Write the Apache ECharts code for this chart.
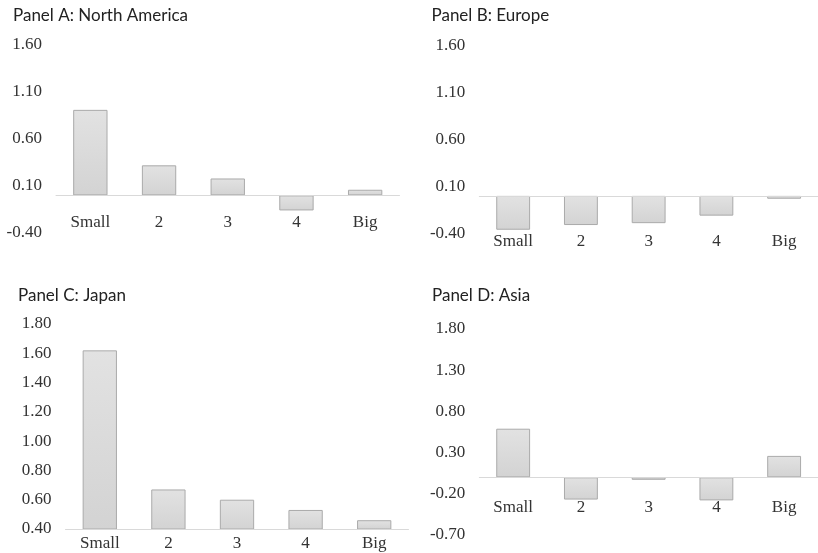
<!DOCTYPE html>
<html>
<head>
<meta charset="utf-8">
<title>Size quintile returns by region</title>
<script src="https://cdn.jsdelivr.net/npm/echarts@6/dist/echarts.min.js"></script>
<style>
  html, body { margin: 0; padding: 0; background: #ffffff; }
  #chart { width: 818px; height: 553px; }
</style>
</head>
<body>
<div id="chart"></div>
<script>
// Size quintiles shared by every panel
const categories = ['Small', '2', '3', '4', 'Big'];

// Panel titles
const panelTitles = ['Panel A: North America', 'Panel B: Europe', 'Panel C: Japan', 'Panel D: Asia'];

// Values per panel
const northAmerica = [0.91, 0.32, 0.18, -0.16, 0.06];
const europe = [-0.36, -0.31, -0.29, -0.21, -0.03];
const japan = [1.62, 0.67, 0.60, 0.53, 0.46];
const asia = [0.59, -0.27, -0.03, -0.28, 0.26];

// Value axis ranges: [min, max, interval]
const rangeA = [-0.4, 1.6, 0.5];
const rangeB = [-0.4, 1.6, 0.5];
const rangeC = [0.4, 1.8, 0.2];
const rangeD = [-0.7, 1.8, 0.5];

const panelValues = [northAmerica, europe, japan, asia];
const panelRanges = [rangeA, rangeB, rangeC, rangeD];

// Layout of the four plot areas
const grids = [
  { left: 56, top: 45, width: 343.5, height: 188 },
  { left: 479.3, top: 45.5, width: 343.5, height: 188 },
  { left: 65.5, top: 324, width: 343, height: 205 },
  { left: 479.3, top: 329, width: 343.5, height: 206 }
];
// Category labels are offset from the bottom edge of each plot area
const categoryLabelMargins = [-19, -0.5, 5.8, -36];
const titlePositions = [
  { left: 13, top: 7 },
  { left: 431.5, top: 7 },
  { left: 18, top: 287.5 },
  { left: 432, top: 287.5 }
];

const serifFont = '"Liberation Serif", "Times New Roman", serif';
const sansFont = 'Lato, "Open Sans", sans-serif';

const barFill = new echarts.graphic.LinearGradient(0, 0, 0, 1, [
  { offset: 0, color: '#e2e2e2' },
  { offset: 1, color: '#d3d3d3' }
]);

const option = {
  animation: false,
  backgroundColor: '#ffffff',
  title: panelTitles.map((t, i) => ({
    text: t,
    left: titlePositions[i].left,
    top: titlePositions[i].top,
    padding: 0,
    textStyle: { fontFamily: sansFont, fontSize: 17, fontWeight: 'normal', color: '#222222' }
  })),
  grid: grids.map(g => Object.assign({ containLabel: false }, g)),
  xAxis: grids.map((g, i) => ({
    type: 'category',
    gridIndex: i,
    data: categories,
    z: 3,
    axisLine: { onZero: true, lineStyle: { color: '#d9d9d9', width: 1 } },
    axisTick: { show: false },
    splitLine: { show: false },
    axisLabel: {
      margin: categoryLabelMargins[i],
      fontFamily: serifFont,
      fontSize: 17,
      color: '#333333'
    }
  })),
  yAxis: panelRanges.map((r, i) => ({
    type: 'value',
    gridIndex: i,
    min: r[0],
    max: r[1],
    interval: r[2],
    axisLine: { show: false },
    axisTick: { show: false },
    splitLine: { show: false },
    axisLabel: {
      margin: 14,
      fontFamily: serifFont,
      fontSize: 17,
      color: '#333333',
      formatter: v => v.toFixed(2)
    }
  })),
  series: panelValues.map((vals, i) => ({
    type: 'bar',
    xAxisIndex: i,
    yAxisIndex: i,
    data: vals,
    barCategoryGap: '50%',
    clip: true,
    itemStyle: {
      color: barFill,
      borderColor: '#aaaaaa',
      borderWidth: 1
    }
  }))
};

const chart = echarts.init(document.getElementById('chart'), null, { renderer: 'canvas' });
chart.setOption(option);
</script>
</body>
</html>
